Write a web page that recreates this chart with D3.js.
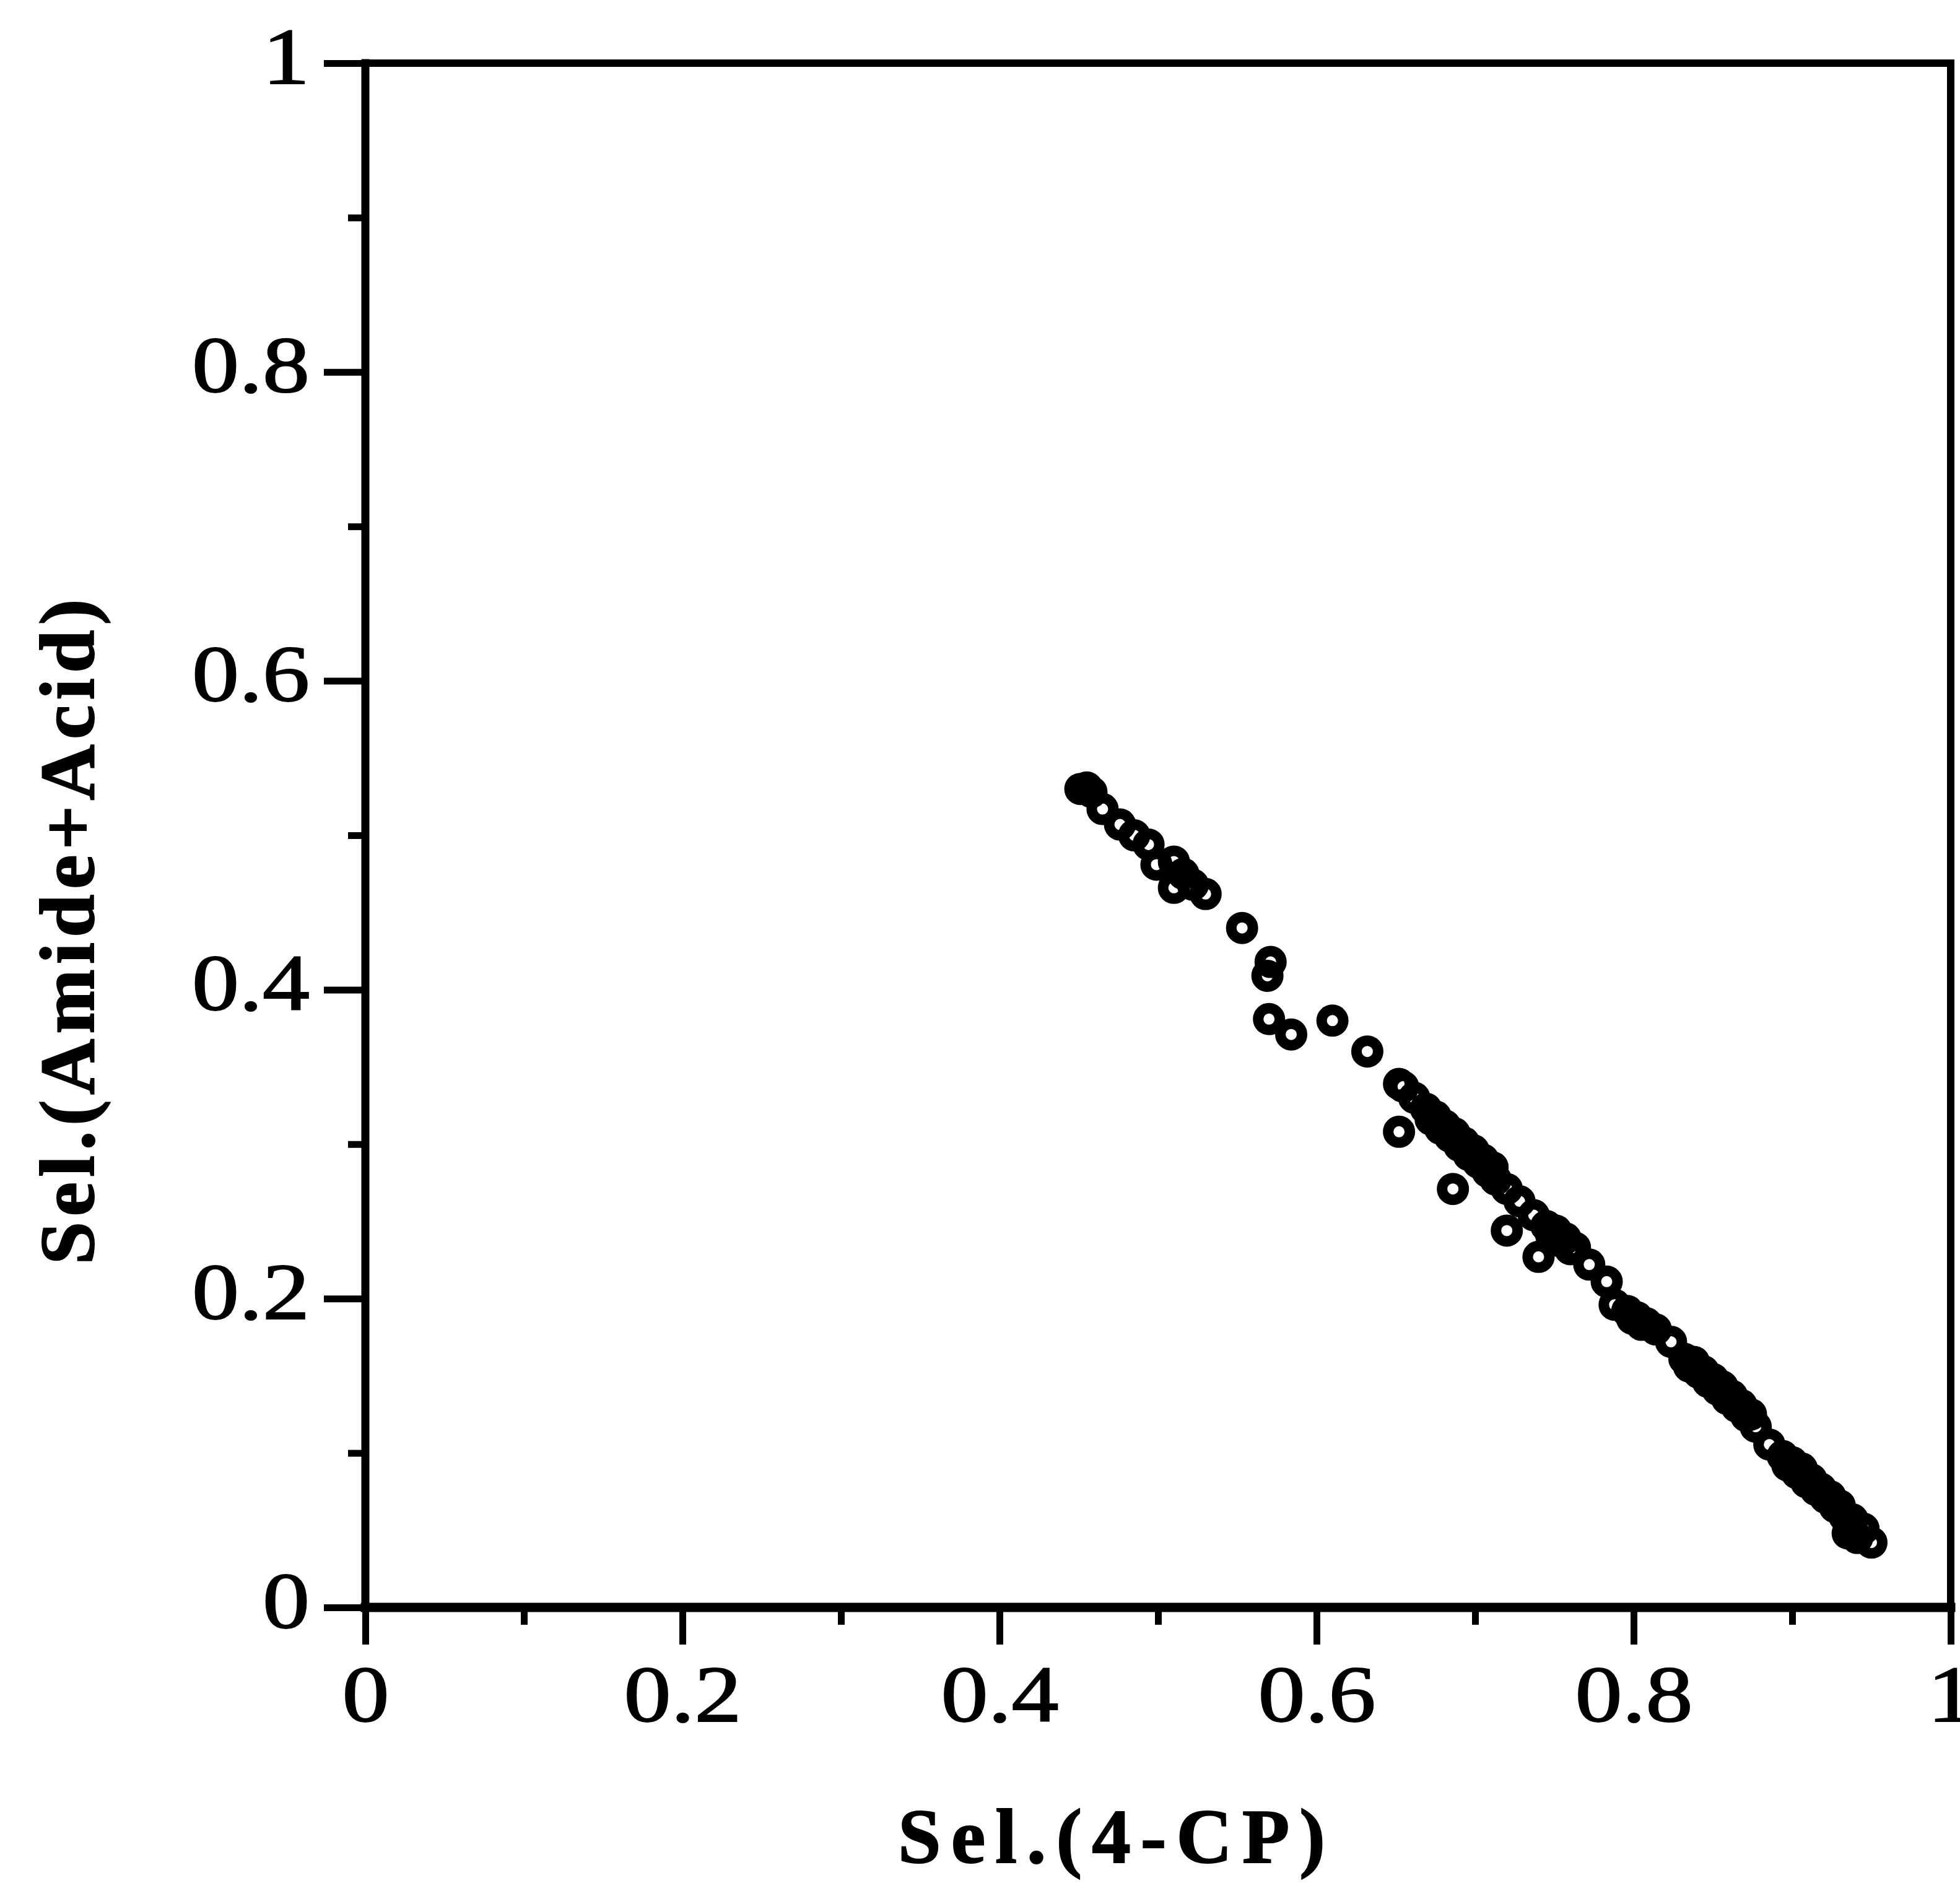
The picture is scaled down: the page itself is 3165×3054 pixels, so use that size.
<!DOCTYPE html>
<html>
<head>
<meta charset="utf-8">
<script src="https://cdn.jsdelivr.net/npm/d3@7"></script>
<style>
  html, body { margin: 0; padding: 0; background: #fff; }
  svg { display: block; }
</style>
</head>
<body>
<div id="chart"></div>
<script>
// ticks
const majorTicks = [0, 0.2, 0.4, 0.6, 0.8, 1];
const minorTicks = [0.1, 0.3, 0.5, 0.7, 0.9];
const tickLabels = ["0", "0.2", "0.4", "0.6", "0.8", "1"];

const selCP = [
  // upper cluster
  0.451, 0.455, 0.458, 0.465, 0.476, 0.485, 0.494, 0.499, 0.510, 0.516,
  0.510, 0.522, 0.530,
  // isolated points
  0.553, 0.571, 0.569, 0.570, 0.584, 0.610, 0.632,
  0.652, 0.6546, 0.6616, 0.652, 0.686, 0.720, 0.740,
  // main band
  0.669, 0.672, 0.675, 0.678, 0.681, 0.684, 0.687, 0.690, 0.693, 0.696,
  0.699, 0.702, 0.705, 0.708, 0.711, 0.713, 0.720, 0.728, 0.737, 0.745,
  0.748, 0.751, 0.754, 0.757, 0.760, 0.763, 0.772, 0.783, 0.788, 0.796,
  0.799, 0.802, 0.805, 0.808, 0.814, 0.8236, 0.832, 0.835, 0.838, 0.841,
  0.844, 0.847, 0.850, 0.853, 0.856, 0.859, 0.862, 0.865, 0.868, 0.871,
  0.874, 0.877, 0.8856, 0.894, 0.897, 0.900, 0.903, 0.906, 0.909, 0.912,
  0.915, 0.918, 0.921, 0.924, 0.927, 0.930, 0.933, 0.938, 0.935, 0.945,
  0.941, 0.950
];
const selAmideAcid = [
  0.530, 0.531, 0.528, 0.517, 0.507, 0.500, 0.494, 0.481, 0.483, 0.475,
  0.466, 0.468, 0.462,
  0.440, 0.418, 0.409, 0.381, 0.371, 0.380, 0.360,
  0.339, 0.3372, 0.330, 0.308, 0.271, 0.244, 0.227,
  0.323, 0.316, 0.318, 0.310, 0.312, 0.305, 0.307, 0.299, 0.301, 0.293,
  0.296, 0.288, 0.290, 0.282, 0.285, 0.277, 0.271, 0.263, 0.254, 0.247,
  0.241, 0.244, 0.237, 0.239, 0.232, 0.233, 0.222, 0.211, 0.196, 0.192,
  0.187, 0.188, 0.183, 0.184, 0.180, 0.172, 0.161, 0.156, 0.159, 0.152,
  0.153, 0.146, 0.148, 0.141, 0.143, 0.135, 0.137, 0.130, 0.131, 0.124,
  0.125, 0.117, 0.1055, 0.098, 0.092, 0.094, 0.087, 0.090, 0.081, 0.083,
  0.076, 0.077, 0.071, 0.072, 0.065, 0.066, 0.059, 0.057, 0.048, 0.051,
  0.045, 0.042
];

const W = 3165, H = 3054;
const margin = { top: 102, right: 15, bottom: 458, left: 590 };
const width = W - margin.left - margin.right;
const height = H - margin.top - margin.bottom;
const font = "'Liberation Serif', 'Times New Roman', serif";
const stretch = 1.17; // glyphs in the source are a bit wider than Times

const svg = d3.select("#chart").append("svg")
  .attr("width", W)
  .attr("height", H)
  .style("background", "#fff");

const g = svg.append("g")
  .attr("transform", `translate(${margin.left},${margin.top})`);

const x = d3.scaleLinear().domain([0, 1]).range([0, width]);
const y = d3.scaleLinear().domain([0, 1]).range([height, 0]);

// minor ticks
g.append("g")
  .attr("transform", `translate(0,${height})`)
  .call(d3.axisBottom(x).tickValues(minorTicks).tickSize(28).tickFormat(""))
  .call(a => a.select(".domain").remove());
g.append("g")
  .call(d3.axisLeft(y).tickValues(minorTicks).tickSize(28).tickFormat(""))
  .call(a => a.select(".domain").remove());

// major ticks + labels
const xAxis = g.append("g")
  .attr("transform", `translate(0,${height})`)
  .call(d3.axisBottom(x).tickValues(majorTicks).tickSize(60)
    .tickFormat((d, i) => tickLabels[i]))
  .call(a => a.select(".domain").remove());
xAxis.selectAll("text")
  .attr("y", 184).attr("dy", null)
  .attr("transform", `scale(${stretch},1)`);

const yAxis = g.append("g")
  .call(d3.axisLeft(y).tickValues(majorTicks).tickSize(67)
    .tickFormat((d, i) => tickLabels[i]))
  .call(a => a.select(".domain").remove());
yAxis.selectAll("text")
  .attr("x", -90 / stretch).attr("dy", null).attr("y", 32)
  .attr("transform", `scale(${stretch},1)`);

g.selectAll(".tick line").attr("stroke", "#000").attr("stroke-width", 11);
g.selectAll(".tick text")
  .attr("fill", "#000")
  .attr("stroke", "#000")
  .attr("stroke-width", 2)
  .style("font-family", font)
  .style("font-size", "130px");

// frame
const frame = [
  { x1: x(0), y1: y(0), x2: x(1), y2: y(0), w: 15 },
  { x1: x(0), y1: y(0), x2: x(0), y2: y(1), w: 13 },
  { x1: x(0), y1: y(1), x2: x(1), y2: y(1), w: 12 },
  { x1: x(1), y1: y(0), x2: x(1), y2: y(1), w: 12 }
];
g.selectAll(".frame")
  .data(frame)
  .enter()
  .append("line")
  .attr("class", "frame")
  .attr("x1", d => d.x1).attr("y1", d => d.y1)
  .attr("x2", d => d.x2).attr("y2", d => d.y2)
  .attr("stroke", "#000")
  .attr("stroke-width", d => d.w)
  .attr("stroke-linecap", "square");

// points
g.selectAll(".pt")
  .data(selCP.map((v, i) => [v, selAmideAcid[i]]))
  .enter()
  .append("circle")
  .attr("class", "pt")
  .attr("cx", d => x(d[0]))
  .attr("cy", d => y(d[1]))
  .attr("r", 17.5)
  .attr("fill", "none")
  .attr("stroke", "#000")
  .attr("stroke-width", 17);

// axis titles
svg.append("text")
  .attr("x", 1795)
  .attr("y", 3008)
  .attr("text-anchor", "middle")
  .attr("textLength", 690)
  .attr("lengthAdjust", "spacing")
  .attr("stroke", "#000")
  .attr("stroke-width", 2)
  .style("font-family", font)
  .style("font-weight", "bold")
  .style("font-size", "125px")
  .text("Sel.(4-CP)");

svg.append("text")
  .attr("transform", "translate(151,1505) rotate(-90)")
  .attr("text-anchor", "middle")
  .attr("textLength", 1075)
  .attr("lengthAdjust", "spacing")
  .attr("stroke", "#000")
  .attr("stroke-width", 2)
  .style("font-family", font)
  .style("font-weight", "bold")
  .style("font-size", "125px")
  .text("Sel.(Amide+Acid)");
</script>
</body>
</html>
